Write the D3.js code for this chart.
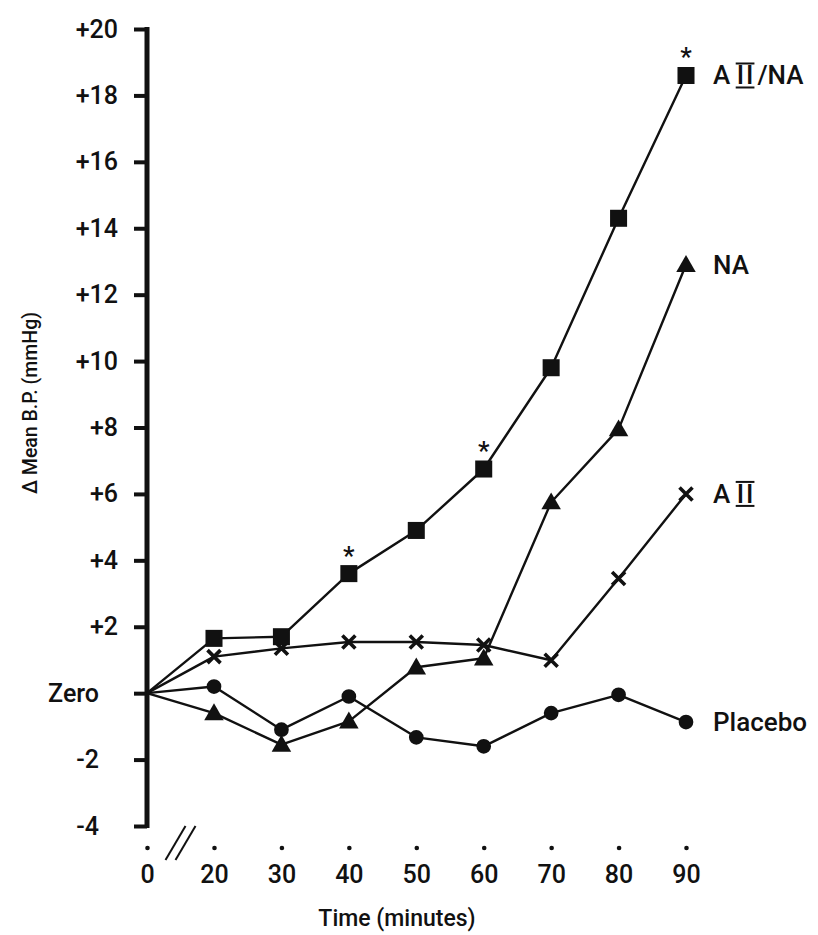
<!DOCTYPE html>
<html>
<head>
<meta charset="utf-8">
<script src="https://cdn.jsdelivr.net/npm/d3@7"></script>
<style>
  html, body { margin: 0; padding: 0; background: #ffffff; }
  svg text { font-family: Roboto, "Liberation Sans", Arial, sans-serif; font-weight: 500; fill: #111; }
</style>
</head>
<body>
<svg id="chart" width="818" height="935"></svg>
<script>
// Time points (minutes) and change in mean blood pressure (mmHg)
const times = [0, 20, 30, 40, 50, 60, 70, 80, 90];
const aiiNa   = [0, 1.65, 1.7, 3.6, 4.9, 6.75, 9.8, 14.3, 18.6];
const na      = [0, -0.6, -1.55, -0.85, 0.78, 1.05, 5.75, 7.95, 12.9];
const aii     = [0, 1.1, 1.35, 1.54, 1.54, 1.45, 0.99, 3.45, 6.0];
const placebo = [0, 0.2, -1.1, -0.1, -1.33, -1.6, -0.6, -0.05, -0.87];

// Times at which the combined infusion differs significantly
const significantTimes = [40, 60, 90];

const yTicks = [-4, -2, 0, 2, 4, 6, 8, 10, 12, 14, 16, 18, 20];
const xTickLabels = ["0", "20", "30", "40", "50", "60", "70", "80", "90"];

const svg = d3.select("#chart");

// Broken time axis: 0 sits on the pressure axis, 20..90 evenly spaced
const x = d3.scaleLinear().domain([0, 20, 90]).range([147, 214, 686]);
const y = d3.scaleLinear().domain([-4, 20]).range([826, 29]);

// Vertical axis
const yAxis = d3.axisLeft(y)
  .tickValues(yTicks)
  .tickSize(13)
  .tickSizeOuter(0)
  .tickPadding(16)
  .tickFormat(d => d === 0 ? "Zero" : (d > 0 ? "+" + d : String(d)));

const gy = svg.append("g")
  .attr("transform", `translate(${x(0)},0)`)
  .call(yAxis);
gy.select(".domain").attr("stroke", "#111").attr("stroke-width", 5)
  .attr("d", `M0,${y(-4) + 2}V${y(20) - 2}`);
gy.selectAll(".tick line").attr("stroke", "#111").attr("stroke-width", 4);
gy.selectAll(".tick text").attr("font-size", 25).attr("fill", "#111");
// Zero and the negative values are set further out from the axis
gy.selectAll(".tick text").filter(d => d <= 0).attr("x", -48);

// Horizontal axis: dots above the minute labels, no axis line
const xAxis = d3.axisBottom(x)
  .tickValues(times)
  .tickSize(0)
  .tickPadding(17)
  .tickFormat((d, i) => xTickLabels[i]);

const gx = svg.append("g")
  .attr("transform", "translate(0,848)")
  .call(xAxis);
gx.select(".domain").remove();
gx.selectAll(".tick text").attr("font-size", 25).attr("fill", "#111");
gx.selectAll(".tick").append("circle").attr("r", 2.3).attr("fill", "#111");

// Axis break marks between 0 and 20
const bx = (x(0) + x(20)) / 2;
[-5, 5].forEach(off => {
  svg.append("line")
    .attr("x1", bx + off - 10).attr("y1", 860)
    .attr("x2", bx + off + 10).attr("y2", 826)
    .attr("stroke", "#111").attr("stroke-width", 2);
});

// Axis titles
svg.append("text")
  .attr("transform", "translate(37,403) rotate(-90)")
  .attr("text-anchor", "middle")
  .attr("font-size", 19.5)
  .text("\u0394 Mean B.P. (mmHg)");

svg.append("text")
  .attr("x", 397).attr("y", 926)
  .attr("text-anchor", "middle")
  .attr("font-size", 23)
  .text("Time (minutes)");

// Series
const series = [
  { name: "placebo", values: placebo, marker: "circle",   label: [["Placebo", false]] },
  { name: "aii",     values: aii,     marker: "cross",    label: [["A ", false], ["II", true]] },
  { name: "na",      values: na,      marker: "triangle", label: [["NA", false]] },
  { name: "aiiNa",   values: aiiNa,   marker: "square",   label: [["A ", false], ["II", true], ["/NA", false]] }
];

const line = d3.line().x(d => x(d.t)).y(d => y(d.v));

series.forEach(s => {
  const pts = times.map((t, i) => ({ t, v: s.values[i] }));
  svg.append("path")
    .datum(pts)
    .attr("fill", "none")
    .attr("stroke", "#111")
    .attr("stroke-width", 2.4)
    .attr("stroke-linejoin", "round")
    .attr("d", line);
});

const symbols = {
  circle: d3.symbol().type(d3.symbolCircle).size(170),
  square: d3.symbol().type(d3.symbolSquare).size(290),
  triangle: d3.symbol().type(d3.symbolTriangle).size(165)
};

series.forEach(s => {
  const pts = times.map((t, i) => ({ t, v: s.values[i] })).filter(d => d.t > 0);
  const g = svg.append("g").attr("class", "markers-" + s.name);
  if (s.marker === "cross") {
    const h = 6.5;
    pts.forEach(d => {
      const cx = x(d.t), cy = y(d.v);
      g.append("path")
        .attr("d", `M${cx - h},${cy - h}L${cx + h},${cy + h}M${cx - h},${cy + h}L${cx + h},${cy - h}`)
        .attr("stroke", "#111").attr("stroke-width", 3.6).attr("fill", "none");
    });
  } else {
    g.selectAll("path").data(pts).join("path")
      .attr("transform", d => `translate(${x(d.t)},${y(d.v) + (s.marker === "triangle" ? 1.5 : 0)})`)
      .attr("d", symbols[s.marker])
      .attr("fill", "#111");
  }

  // End label, built from plain pieces and a Roman numeral with bars
  const last = pts[pts.length - 1];
  let lx = x(last.t) + 27;
  const ly = y(last.v) + 9;
  const lab = svg.append("g").attr("class", "label-" + s.name);
  s.label.forEach(([txt, roman]) => {
    const t = lab.append("text")
      .attr("x", lx).attr("y", ly)
      .attr("font-size", 26)
      .attr("letter-spacing", roman ? 2 : 0)
      .style("white-space", "pre")
      .text(txt);
    const w = t.node().getComputedTextLength();
    if (roman) {
      lab.append("line").attr("x1", lx - 1).attr("x2", lx + w - 1)
        .attr("y1", ly - 21).attr("y2", ly - 21)
        .attr("stroke", "#111").attr("stroke-width", 2);
      lab.append("line").attr("x1", lx - 1).attr("x2", lx + w - 1)
        .attr("y1", ly + 3).attr("y2", ly + 3)
        .attr("stroke", "#111").attr("stroke-width", 2);
    }
    lx += w + (roman ? 2 : 0);
  });
});

// Significance asterisks above the combined-infusion points
significantTimes.forEach(t => {
  const i = times.indexOf(t);
  svg.append("text")
    .attr("x", x(t)).attr("y", y(aiiNa[i]) - 9)
    .attr("text-anchor", "middle")
    .attr("font-size", 26)
    .text("*");
});
</script>
</body>
</html>
